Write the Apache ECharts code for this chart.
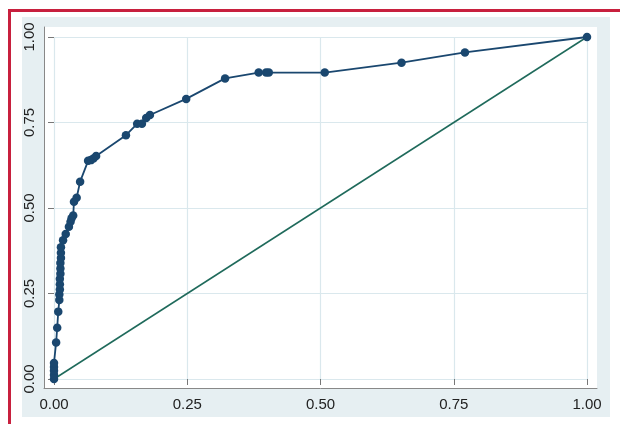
<!DOCTYPE html>
<html>
<head>
<meta charset="utf-8">
<script src="https://cdn.jsdelivr.net/npm/echarts@6/dist/echarts.min.js"></script>
<style>
  html, body { margin: 0; padding: 0; background: #fff; }
  #frame {
    position: absolute; left: 8px; top: 9px; width: 620px; height: 420px;
    border-top: 3px solid #c8203e; border-left: 3px solid #c8203e;
  }
  #chart { position: absolute; left: 22px; top: 17px; width: 588px; height: 400px; }
</style>
</head>
<body>
<div id="frame"></div>
<div id="chart"></div>
<script>
// ROC curve: 1 - specificity vs sensitivity
const fpr = [0, 0, 0, 0, 0, 0.004, 0.006, 0.008,
  0.010, 0.010, 0.011, 0.011, 0.011, 0.012, 0.012, 0.012, 0.013, 0.013, 0.013,
  0.017, 0.022, 0.028, 0.031, 0.033, 0.036, 0.0375, 0.0425, 0.049,
  0.064, 0.069, 0.074, 0.079, 0.135, 0.156, 0.165, 0.173, 0.18,
  0.248, 0.321, 0.384, 0.398, 0.403, 0.508, 0.652, 0.771, 1]
const tpr = [0, 0.012, 0.024, 0.035, 0.047, 0.107, 0.15, 0.197,
  0.231, 0.247, 0.262, 0.277, 0.293, 0.308, 0.323, 0.339, 0.354, 0.369, 0.385,
  0.406, 0.424, 0.445, 0.46, 0.47, 0.478, 0.518, 0.53, 0.577,
  0.638, 0.64, 0.645, 0.652, 0.713, 0.746, 0.746, 0.763, 0.772,
  0.819, 0.879, 0.896, 0.896, 0.896, 0.896, 0.925, 0.955, 1]
const refX = [0, 1]
const refY = [0, 1]
const tickLabels = ['0.00', '0.25', '0.50', '0.75', '1.00']

const chart = echarts.init(document.getElementById('chart'), null, { renderer: 'canvas' })

const labelFont = { color: '#222', fontSize: 15, fontFamily: 'Liberation Sans' }
const gridLine = { show: true, lineStyle: { color: '#dae8ed', width: 1.2 } }
const tick = { show: true, length: 6, lineStyle: { color: '#777' } }

const option = {
  backgroundColor: '#e6eff2',
  animation: false,
  grid: [
    { left: 32, right: 23, top: 20, bottom: 38 },
    { left: 22, right: 13, top: 10, bottom: 29, show: true, backgroundColor: '#fff', borderWidth: 0, z: 0 },
  ],
  xAxis: [
    {
      type: 'value', gridIndex: 0, min: 0, max: 1, interval: 0.25, offset: 9,
      axisLine: { show: false }, axisTick: tick, splitLine: gridLine,
      axisLabel: { ...labelFont, margin: 9, formatter: v => tickLabels[Math.round(v * 4)] },
    },
    {
      type: 'value', gridIndex: 1, min: 0, max: 1,
      axisLine: { show: true, lineStyle: { color: '#888' } },
      axisTick: { show: false }, axisLabel: { show: false }, splitLine: { show: false },
    },
  ],
  yAxis: [
    {
      type: 'value', gridIndex: 0, min: 0, max: 1, interval: 0.25, offset: 10,
      axisLine: { show: false }, axisTick: tick, splitLine: gridLine,
      axisLabel: { ...labelFont, margin: 7, rotate: 90, formatter: v => tickLabels[Math.round(v * 4)] },
    },
    {
      type: 'value', gridIndex: 1, min: 0, max: 1,
      axisLine: { show: true, lineStyle: { color: '#888' } },
      axisTick: { show: false }, axisLabel: { show: false }, splitLine: { show: false },
    },
  ],
  series: [
    {
      type: 'line', xAxisIndex: 0, yAxisIndex: 0,
      data: refX.map((x, i) => [x, refY[i]]),
      showSymbol: false, symbol: 'none',
      lineStyle: { color: '#1f6a5b', width: 1.5 },
      z: 2,
    },
    {
      type: 'line', xAxisIndex: 0, yAxisIndex: 0,
      data: fpr.map((x, i) => [x, tpr[i]]),
      symbol: 'circle', symbolSize: 8.5,
      itemStyle: { color: '#1a476f' },
      lineStyle: { color: '#1a476f', width: 1.8 },
      z: 3,
    },
  ],
}

chart.setOption(option, true)
window.addEventListener('resize', () => chart.resize())
</script>
</body>
</html>
